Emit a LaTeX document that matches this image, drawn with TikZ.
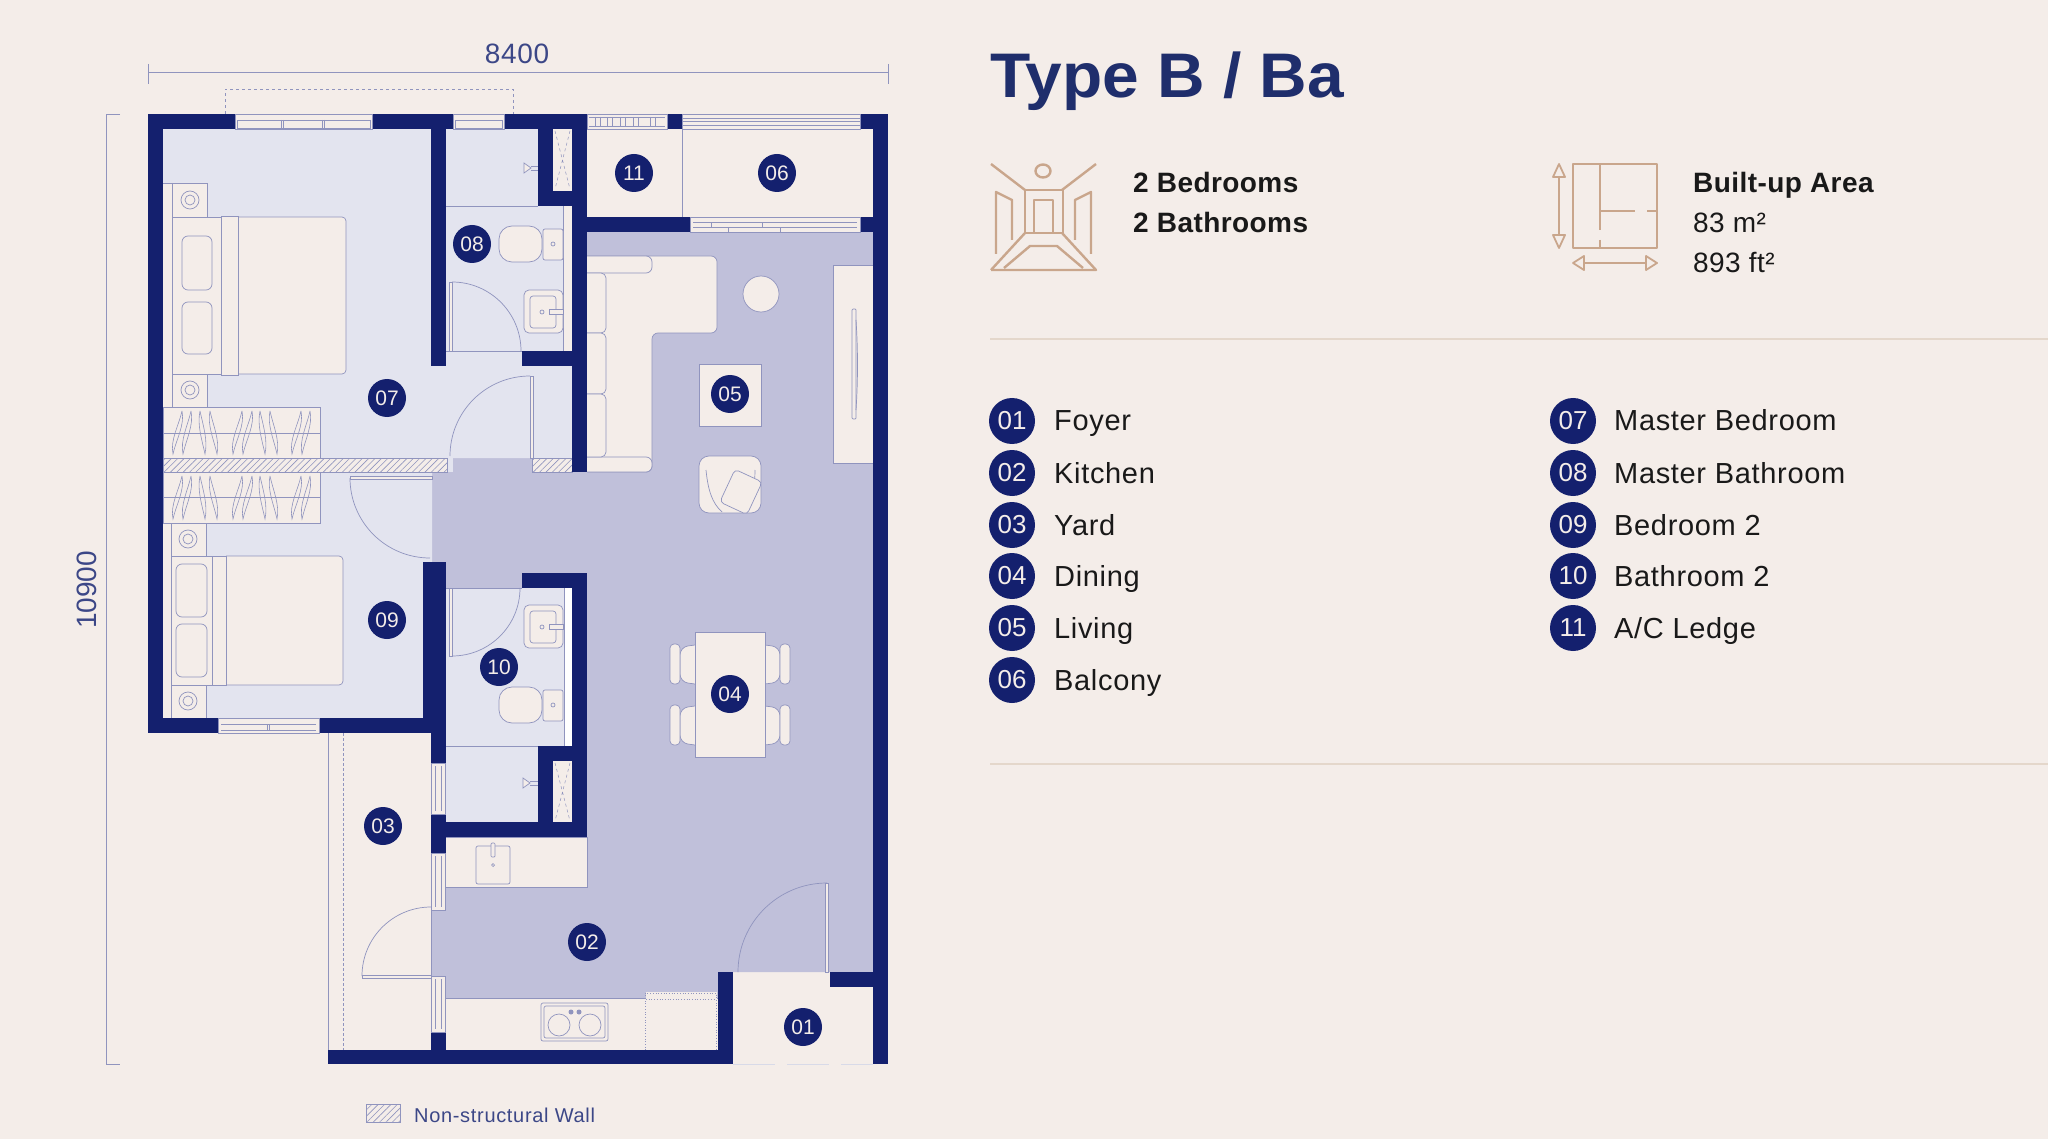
\documentclass[tikz,border=0pt]{standalone}
\usepackage{fontspec}
\usepackage{tikz}
\usetikzlibrary{patterns.meta}
\setmainfont{Liberation Sans}
\definecolor{paper}{HTML}{F4EDE9}
\definecolor{navy}{HTML}{14206E}
\definecolor{pale}{HTML}{E3E4EF}
\definecolor{lilac}{HTML}{C0C0DA}
\definecolor{edge}{HTML}{9094BE}
\definecolor{tan}{HTML}{C9A68C}
\definecolor{rule}{HTML}{E4D7CB}
\definecolor{ink}{HTML}{3C4787}
\definecolor{headblue}{HTML}{1F2E6C}
\tikzset{
	wall/.style = {fill = navy},
	furn/.style = {draw = edge, fill = paper, line width = .7pt},
	fine/.style = {draw = edge, line width = .7pt},
	hatched/.style = {draw = edge, line width = .6pt, pattern = {Lines[angle = 45, distance = 4.5pt, line width = .6pt]}, pattern color = edge},
	badge/.style = {circle, fill = navy, text = paper, minimum size = 38pt, inner sep = 0pt, font = \fontsize{21}{21}\selectfont},
	bigbadge/.style = {circle, fill = navy, text = paper, minimum size = 46pt, inner sep = 0pt, font = \fontsize{26}{26}\selectfont},
	item/.style = {anchor = base west, inner sep = 0pt, text = black!90, font = \fontsize{29}{29}\selectfont\addfontfeature{LetterSpace = 2.3}},
	stat/.style = {anchor = base west, inner sep = 0pt, text = black!90, font = \fontsize{28}{28}\selectfont\addfontfeature{LetterSpace = 1.5}},
	statbold/.style = {stat, font = \fontsize{28}{28}\selectfont\bfseries\addfontfeature{LetterSpace = 1.5}},
	dimtext/.style = {text = ink, inner sep = 0pt, font = \fontsize{28}{28}\selectfont},
	icon/.style = {draw = tan, line width = 2.4pt, line join = round}
}
\begin{document}
\begin{tikzpicture}[x = 1pt, y = -1pt]
	\useasboundingbox (0,0) rectangle (2048,1139);
	\fill[paper] (0,0) rectangle (2048,1139);

	\fill[lilac] (587,232) -- (873,232) -- (873,972) -- (718,972) -- (718,998) -- (431,998) -- (431,887) -- (587,887) -- (587,573) -- (522,573) -- (522,588) -- (446,588) -- (446,562) -- (432,562) -- (432,472) -- (453,472) -- (453,458) -- (532,458) -- (532,472) -- (587,472) -- cycle;
	\fill[pale] (163,129) -- (431,129) -- (431,366) -- (572,366) -- (572,458) -- (163,458) -- cycle;
	\fill[pale] (446,129) -- (538,129) -- (538,206) -- (572,206) -- (572,366) -- (446,366) -- cycle;
	\fill[pale] (163,472) -- (432,472) -- (432,562) -- (423,562) -- (423,718) -- (163,718) -- cycle;
	\fill[pale] (446,588) -- (572,588) -- (572,746) -- (538,746) -- (538,822) -- (446,822) -- cycle;
	\fill[white] (564,588) rectangle (572,746);
	\fill[pale] (448,458) rectangle (453,472);

	\draw[furn] (163,183) -- (207,183) -- (207,217) -- (238,217) -- (238,374) -- (207,374) -- (207,407) -- (163,407);
	\draw[fine] (172,183) -- (172,407);
	\draw[fine] (172,217) -- (221,217) (172,374) -- (221,374);
	\draw[furn, rounded corners = 4pt] (238,217) -- (346,217) -- (346,374) -- (238,374);
	\draw[furn] (221,216) rectangle (238,375);
	\draw[furn, rounded corners = 6pt] (182,236) rectangle (212,290);
	\draw[furn, rounded corners = 6pt] (182,302) rectangle (212,354);
	\draw[fine] (190,200) circle [radius = 9pt] (190,200) circle [radius = 5pt];
	\draw[fine] (190,390) circle [radius = 9pt] (190,390) circle [radius = 5pt];

	\draw[furn] (163,523) -- (206,523) -- (206,556) -- (226,556) -- (226,685) -- (206,685) -- (206,718) -- (163,718);
	\draw[fine] (171,523) -- (171,718);
	\draw[fine] (171,556) -- (212,556) (171,685) -- (212,685);
	\draw[furn, rounded corners = 4pt] (226,556) -- (343,556) -- (343,685) -- (226,685);
	\draw[furn] (212,556) rectangle (226,685);
	\draw[furn, rounded corners = 6pt] (176,564) rectangle (207,617);
	\draw[furn, rounded corners = 6pt] (176,624) rectangle (207,677);
	\draw[fine] (188,539) circle [radius = 9pt] (188,539) circle [radius = 5pt];
	\draw[fine] (188,701) circle [radius = 9pt] (188,701) circle [radius = 5pt];

	\draw[furn] (163,407) rectangle (320,458);
	\draw[furn] (163,472) rectangle (320,523);
	\draw[fine] (163,433) -- (320,433) (163,497) -- (320,497);
	\foreach \topx/\botx in {182/173, 191/183, 200/205, 210/217, 242/233, 252/243, 260/265, 270/277, 301/292, 310/302} {
		\draw[fine, line width = .6pt] (\topx,411) .. controls (\topx-3,425) and (\botx-3,440) .. (\botx,454) .. controls (\botx+3,440) and (\topx+3,425) .. (\topx,411);
		\draw[fine, line width = .6pt] (\topx,476) .. controls (\topx-3,490) and (\botx-3,505) .. (\botx,519) .. controls (\botx+3,505) and (\topx+3,490) .. (\topx,476);
	}
	\draw[hatched] (163,458) rectangle (447,472);
	\draw[hatched] (532,458) rectangle (572,472);

	\fill[paper] (563,206) rectangle (572,351);
	\draw[fine] (446,206) -- (538,206) (563,206) -- (563,351) (446,351) -- (522,351);
	\draw[fine] (446,746) -- (538,746) (564,588) -- (564,746) (446,588) -- (522,588);
	\foreach \ty in {226, 687} {
		\draw[furn, rounded corners = 2pt] (543,\ty+3) rectangle (563,\ty+34);
		\draw[furn, rounded corners = 13pt] (542,\ty) -- (499,\ty) -- (499,\ty+36) -- (542,\ty+36) -- cycle;
		\draw[fine] (553,\ty+18) circle [radius = 2pt];
	}
	\foreach \sy in {290, 605} {
		\draw[furn, rounded corners = 5pt] (524,\sy) rectangle (563,\sy+43);
		\draw[furn, rounded corners = 3pt] (530,\sy+6) rectangle (556,\sy+38);
		\draw[fine] (542,\sy+22) circle [radius = 2pt];
		\draw[furn] (549,\sy+19) rectangle (563,\sy+24);
	}
	\foreach \hx/\hy in {527/168, 526/783} {
		\draw[furn] (\hx-3,\hy-5) -- (\hx+4,\hy) -- (\hx-3,\hy+5) -- cycle;
		\draw[fine] (\hx+4,\hy-2) -- (\hx+12,\hy-2) (\hx+4,\hy+2) -- (\hx+12,\hy+2);
	}
	\foreach \dt in {129, 761} {
		\fill[paper] (553,\dt) rectangle (572,\dt+62);
		\draw[fine, dashed, line width = .5pt] (555,\dt+2) -- (570,\dt+60) (570,\dt+2) -- (555,\dt+60);
	}

	\draw[furn, rounded corners = 6pt] (587,256) -- (717,256) -- (717,333) -- (652,333) -- (652,472) -- (587,472);
	\draw[furn, rounded corners = 6pt] (587,256) -- (652,256) -- (652,273) -- (587,273);
	\draw[furn, rounded corners = 6pt] (587,457) -- (652,457) -- (652,472) -- (587,472);
	\draw[furn, rounded corners = 5pt] (587,273) -- (606,273) -- (606,333) -- (587,333);
	\draw[furn, rounded corners = 5pt] (587,333) -- (606,333) -- (606,394) -- (587,394);
	\draw[furn, rounded corners = 5pt] (587,394) -- (606,394) -- (606,457) -- (587,457);
	\draw[furn] (761,294) circle [radius = 18pt];
	\draw[furn] (699,364) rectangle (761,426);
	\draw[furn, rounded corners = 10pt] (699,456) rectangle (761,513);
	\draw[fine] (706,470) .. controls (708,490) and (712,503) .. (722,512);
	\draw[fine] (755,470) .. controls (755,485) and (752,503) .. (745,512);
	\draw[furn, rounded corners = 4pt, rotate around = {-25:(741,492)}] (726,474) rectangle (756,510);
	\draw[furn] (833,265) rectangle (873,463);
	\draw[furn, rounded corners = 1pt] (852,309) rectangle (856,419);
	\draw[fine] (856,320) .. controls (858,350) and (858,380) .. (856,410);

	\foreach \cy in {644, 705} {
		\draw[furn, rounded corners = 8pt] (695,\cy+1) -- (680,\cy+3) -- (680,\cy+38) -- (695,\cy+40);
		\draw[furn, rounded corners = 8pt] (765,\cy+1) -- (780,\cy+3) -- (780,\cy+38) -- (765,\cy+40);
		\draw[furn, rounded corners = 4pt] (670,\cy) rectangle (680,\cy+40);
		\draw[furn, rounded corners = 4pt] (780,\cy) rectangle (790,\cy+40);
	}
	\draw[furn] (695,632) rectangle (765,757);

	\draw[furn] (445,837) rectangle (587,887);
	\draw[furn, rounded corners = 2pt] (476,846) rectangle (510,884);
	\draw[furn, rounded corners = 1pt] (491,843) rectangle (495,857);
	\draw[fine] (493,865) circle [radius = 1.5pt];
	\draw[furn] (445,998) rectangle (718,1050);
	\fill[paper] (646,992) rectangle (717,1049);
	\draw[fine, dotted] (645,1050) -- (645,993) -- (716,993) -- (716,1050);
	\draw[fine, dotted] (646,999) -- (716,999);
	\draw[furn, rounded corners = 2pt] (541,1003) rectangle (608,1041);
	\draw[fine, rounded corners = 2pt] (544,1006) rectangle (605,1038);
	\draw[fine] (559,1025) circle [radius = 11pt] (590,1025) circle [radius = 11pt];
	\fill[edge] (571,1012) circle [radius = 2.5pt] (579,1012) circle [radius = 2.5pt];

	\draw[fine] (328,733) -- (328,1050);
	\draw[fine, densely dashed] (343,733) -- (343,1050);
	\draw[fine] (431,910) -- (431,976);
	\draw[fine] (682,129) -- (682,217);
	\draw[draw = edge!35, line width = .7pt, dash pattern = on 42pt off 12pt] (733,1064) -- (873,1064);

	\foreach \xa/\ya/\xb/\yb in {148/114/163/733, 148/114/235/129, 372/114/453/129, 504/114/587/129, 431/114/446/366, 538/114/553/206, 538/191/587/206, 572/114/587/472, 522/351/572/366, 587/217/690/232, 667/114/682/129, 860/114/888/129, 860/217/873/232, 873/114/888/1064, 148/718/218/733, 319/718/446/733, 423/562/446/733, 431/733/446/763, 522/573/587/588, 572/573/587/837, 538/746/587/761, 538/746/553/837, 431/822/587/837, 431/814/446/853, 431/1032/446/1050, 328/1050/733/1064, 718/972/733/1064, 830/972/873/987} {
		\fill[wall] (\xa,\ya) rectangle (\xb,\yb);
	}

	\foreach \xa/\xb in {235/372, 453/504} {
		\draw[furn] (\xa,114) rectangle (\xb,129);
		\draw[furn] (\xa+2,120) rectangle (\xb-2,128);
	}
	\draw[fine] (281,120) -- (281,128) (283,120) -- (283,128) (322,120) -- (322,128) (324,120) -- (324,128);
	\draw[furn] (587,114) rectangle (667,129);
	\draw[fine] (589,117) -- (665,117) (589,126) -- (665,126);
	\foreach \lx in {595, 600, 607, 612, 620, 625, 633, 638, 650, 655} {
		\draw[fine] (\lx,117) -- (\lx,126);
	}
	\draw[furn] (682,114) rectangle (860,129);
	\draw[fine] (682,118) -- (860,118) (682,121) -- (860,121) (682,125) -- (860,125);
	\draw[furn] (690,217) rectangle (860,232);
	\draw[fine] (693,222) -- (857,222) (693,227) -- (857,227);
	\draw[furn] (711,222) rectangle (762,227);
	\draw[furn] (728,227) rectangle (780,232);
	\draw[furn] (218,718) rectangle (319,733);
	\draw[fine] (221,724) -- (316,724) (221,730) -- (316,730) (267,724) -- (267,730) (269,724) -- (269,730);
	\foreach \ya/\yb in {763/814, 853/910, 976/1032} {
		\draw[furn] (431,\ya) rectangle (445,\yb);
		\draw[fine] (435,\ya+3) -- (435,\yb-3) (441,\ya+3) -- (441,\yb-3);
	}

	\draw[fine] (452,282) arc [start angle = 90, end angle = 0, radius = 69pt];
	\draw[furn] (449,282) rectangle (452,351);
	\draw[fine] (452,656) arc [start angle = 270, end angle = 360, radius = 68pt];
	\draw[furn] (449,588) rectangle (452,656);
	\draw[fine] (530,376) arc [start angle = 90, end angle = 180, radius = 80pt];
	\draw[furn] (530,376) rectangle (533,458);
	\draw[fine] (350,478) arc [start angle = 180, end angle = 270, radius = 80pt];
	\draw[furn] (350,476) rectangle (432,479);
	\draw[fine] (362,976) arc [start angle = 180, end angle = 90, radius = 69pt];
	\draw[furn] (362,975) rectangle (431,978);
	\draw[fine] (827,883) arc [start angle = 90, end angle = 180, radius = 89pt];
	\draw[furn] (825,883) rectangle (828,972);

	\draw[fine] (148,64) -- (148,84) (148,72) -- (888,72) (888,64) -- (888,84);
	\draw[fine] (120,114) -- (106,114) -- (106,1064) -- (120,1064);
	\draw[fine, dashed, line width = .6pt] (225,114) -- (225,89) -- (513,89) -- (513,114);
	\node[dimtext] (width) at (517,54) {\addfontfeature{LetterSpace = 2.5}8400};
	\node[dimtext, rotate = 90] (height) at (87,590) {10900};

	\node[badge] (b1) at (803,1027) {01};
	\node[badge] (b2) at (587,942) {02};
	\node[badge] (b3) at (383,826) {03};
	\node[badge] (b4) at (730,694) {04};
	\node[badge] (b5) at (730,394) {05};
	\node[badge] (b6) at (777,173) {06};
	\node[badge] (b7) at (387,398) {07};
	\node[badge] (b8) at (472,244) {08};
	\node[badge] (b9) at (387,620) {09};
	\node[badge] (b10) at (499,667) {10};
	\node[badge] (b11) at (634,173) {11};

	\draw[hatched] (366,1104) rectangle (400,1122);
	\node[anchor = west, inner sep = 0pt, text = ink, font = \fontsize{20}{20}\selectfont\addfontfeature{LetterSpace = 3.4}] (legend) at (414,1115) {Non-structural Wall};

	\node[anchor = base west, inner sep = 0pt, text = headblue, font = \fontsize{63}{63}\selectfont\bfseries\addfontfeature{FakeStretch = 1.045}] (title) at (990,98) {Type B / Ba};

	\draw[icon] (991,164) -- (1025,190) (1096,164) -- (1062,190);
	\draw[icon] (1043,171) ellipse [x radius = 7.5pt, y radius = 6.5pt];
	\draw[icon] (1025,190) rectangle (1063,233);
	\draw[icon] (1034,200) rectangle (1053,233);
	\draw[icon] (1012,240) -- (1012,200) -- (996,192) -- (996,254);
	\draw[icon] (1075,240) -- (1075,200) -- (1091,192) -- (1091,254);
	\draw[icon] (991,270) -- (1096,270) -- (1062,233) (991,270) -- (1025,233);
	\draw[icon] (1004,268) -- (1030,246) -- (1057,246) -- (1083,268);
	\node[statbold] (rooms) at (1133,193) {2 Bedrooms};
	\node[statbold] (baths) at (1133,233) {2 Bathrooms};

	\draw[icon] (1573,164) rectangle (1657,248);
	\draw[icon] (1600,164) -- (1600,230) (1600,240) -- (1600,248);
	\draw[icon] (1600,211) -- (1635,211) (1647,211) -- (1657,211);
	\draw[icon, line width = 1.8pt] (1559,176) -- (1559,236);
	\draw[icon, line width = 1.8pt] (1559,164) -- (1565,177) -- (1553,177) -- cycle;
	\draw[icon, line width = 1.8pt] (1559,248) -- (1565,235) -- (1553,235) -- cycle;
	\draw[icon, line width = 1.8pt] (1583,263) -- (1647,263);
	\draw[icon, line width = 1.8pt] (1573,263) -- (1584,256) -- (1584,270) -- cycle;
	\draw[icon, line width = 1.8pt] (1657,263) -- (1646,256) -- (1646,270) -- cycle;
	\node[statbold] (area) at (1693,193) {Built-up Area};
	\node[stat] (metric) at (1693,233) {83 m²};
	\node[stat] (imperial) at (1693,273) {893 ft²};

	\draw[rule, line width = 1.2pt] (990,339) -- (2048,339);
	\draw[rule, line width = 1.2pt] (990,764) -- (2048,764);

	\foreach \num/\yy/\lab in {01/421/Foyer, 02/473/Kitchen, 03/525/Yard, 04/576/Dining, 05/628/Living, 06/680/Balcony} {
		\node[bigbadge] (k\num) at (1012,\yy) {\num};
		\node[item] (t\num) at (1054,\yy+10) {\lab};
	}
	\foreach \num/\yy/\lab in {07/421/Master Bedroom, 08/473/Master Bathroom, 09/525/Bedroom 2, 10/576/Bathroom 2, 11/628/{A/C Ledge}} {
		\node[bigbadge] (k\num) at (1573,\yy) {\num};
		\node[item] (t\num) at (1614,\yy+10) {\lab};
	}
\end{tikzpicture}
\end{document}
